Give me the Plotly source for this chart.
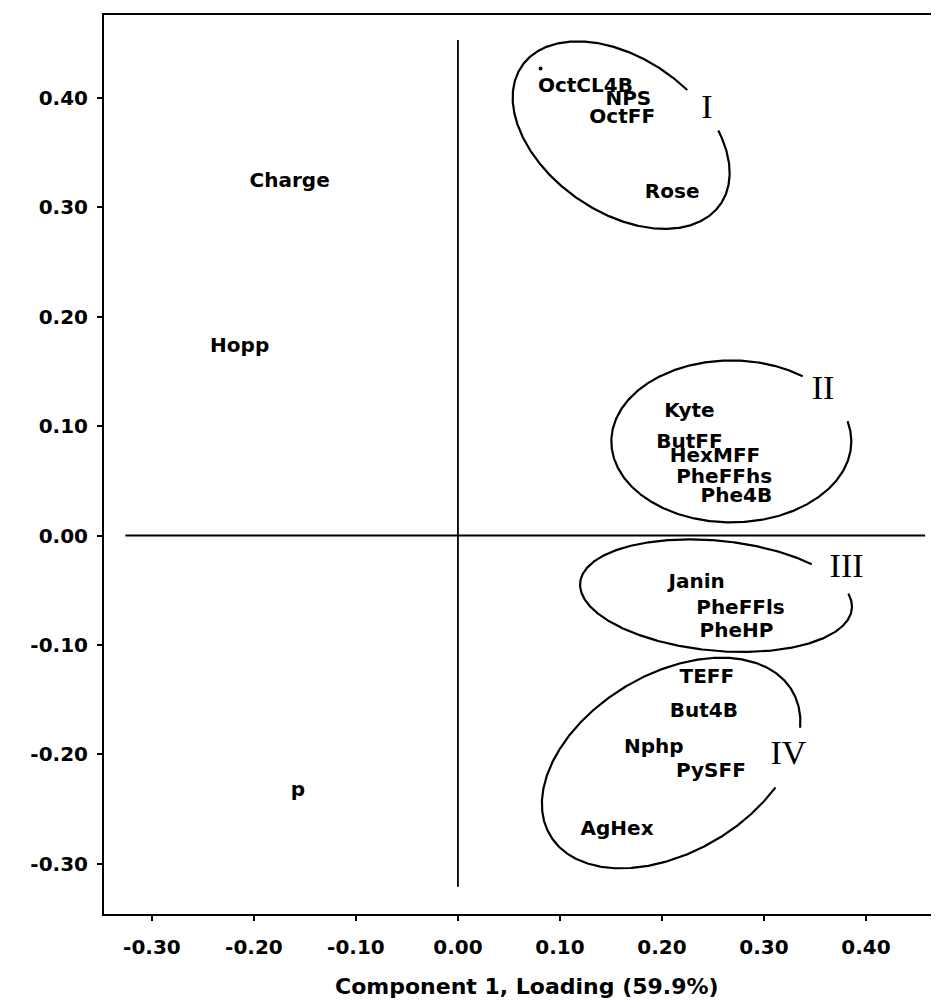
import numpy as np
import plotly.graph_objects as go

# ---- data ----
labels = ["Charge", "Hopp", "p", "OctCL4B", "NPS", "OctFF", "Rose",
          "Kyte", "ButFF", "HexMFF", "PheFFhs", "Phe4B",
          "Janin", "PheFFls", "PheHP",
          "TEFF", "But4B", "Nphp", "PySFF", "AgHex"]
comp1 = [-0.165, -0.214, -0.157, 0.125, 0.167, 0.161, 0.210,
         0.227, 0.227, 0.252, 0.261, 0.273,
         0.234, 0.277, 0.273,
         0.244, 0.241, 0.192, 0.248, 0.156]
comp2 = [0.323, 0.172, -0.234, 0.410, 0.398, 0.382, 0.313,
         0.113, 0.085, 0.072, 0.053, 0.035,
         -0.043, -0.067, -0.088,
         -0.130, -0.161, -0.194, -0.216, -0.269]

group_names = ["I", "II", "III", "IV"]
group_x = [0.244, 0.358, 0.381, 0.324]
group_y = [0.389, 0.133, -0.030, -0.201]

# cluster ellipses: centre (data), semi-axes (px), rotation (deg), open gap (deg)
ell_cx = [0.160, 0.268, 0.253, 0.209]
ell_cy = [0.366, 0.086, -0.055, -0.208]
ell_a = [121, 120, 136.5, 141]
ell_b = [77, 81, 55, 89]
ell_rot = [-35, 0, -5.5, 31]
ell_gap = [(3, 34), (10, 42), (1, 18), (-13, 15)]

xtick_vals = [-0.30, -0.20, -0.10, 0.00, 0.10, 0.20, 0.30, 0.40]
xtick_text = ["-0.30", "-0.20", "-0.10", "0.00", "0.10", "0.20", "0.30", "0.40"]
ytick_vals = [-0.30, -0.20, -0.10, 0.00, 0.10, 0.20, 0.30, 0.40]
ytick_text = ["-0.30", "-0.20", "-0.10", "0.00", "0.10", "0.20", "0.30", "0.40"]

x_range = [-0.347, 0.4716]
y_range = [-0.346, 0.4758]
vline_y = [0.453, -0.321]
hline_x = [-0.326, 0.458]
stray_dot = ([0.081], [0.427])

# ---- layout geometry (page body has an 8px margin) ----
OFF = 8
W, H = 939 - OFF, 1002 - OFF
ML, MT = 104 - OFF, 15 - OFF
MR = 0
MB = H - (914 - OFF)
plot_w = W - ML - MR
plot_h = H - MT - MB
sx = plot_w / (x_range[1] - x_range[0])
sy = plot_h / (y_range[1] - y_range[0])

fig = go.Figure()

# reference cross lines
fig.add_trace(go.Scatter(x=[0, 0], y=vline_y, mode="lines",
                         line=dict(color="black", width=1.8),
                         hoverinfo="skip", showlegend=False))
fig.add_trace(go.Scatter(x=hline_x, y=[0, 0], mode="lines",
                         line=dict(color="black", width=1.8),
                         hoverinfo="skip", showlegend=False))

# ellipses
t = np.linspace(0, 2 * np.pi, 721)
for cx, cy, a, b, rot, gap in zip(ell_cx, ell_cy, ell_a, ell_b, ell_rot, ell_gap):
    r = np.deg2rad(rot)
    dx = a * np.cos(t) * np.cos(r) - b * np.sin(t) * np.sin(r)
    dy = a * np.cos(t) * np.sin(r) + b * np.sin(t) * np.cos(r)
    ang = np.degrees(np.arctan2(dy, dx))
    xs = list(cx + dx / sx)
    ys = list(cy + dy / sy)
    mask = (ang > gap[0]) & (ang < gap[1])
    idx = np.where(mask)[0]
    start = (idx[-1] + 1) % len(t) if len(idx) else 0
    order = list(range(start, len(t))) + list(range(0, start))
    xo = [None if mask[i] else xs[i] for i in order]
    yo = [None if mask[i] else ys[i] for i in order]
    fig.add_trace(go.Scatter(x=xo, y=yo, mode="lines",
                             line=dict(color="black", width=2.2),
                             connectgaps=False, hoverinfo="skip",
                             showlegend=False))

# labels
fig.add_trace(go.Scatter(x=comp1, y=comp2, mode="text", text=labels,
                         textposition="middle center",
                         textfont=dict(family="DejaVu Sans", size=20,
                                       color="black", weight="bold"),
                         showlegend=False))

# roman numerals
fig.add_trace(go.Scatter(x=group_x, y=group_y, mode="text", text=group_names,
                         textposition="middle center",
                         textfont=dict(family="Liberation Serif", size=34,
                                       color="black"),
                         showlegend=False))

fig.add_trace(go.Scatter(x=stray_dot[0], y=stray_dot[1], mode="markers",
                         marker=dict(color="black", size=4),
                         hoverinfo="skip", showlegend=False))

tickfont = dict(family="DejaVu Sans", size=20, color="black", weight="bold")

fig.update_layout(
    width=W, height=H,
    margin=dict(l=ML, r=MR, t=MT, b=MB),
    paper_bgcolor="white", plot_bgcolor="white",
    showlegend=False,
    xaxis=dict(range=x_range, showgrid=False, zeroline=False,
               showline=True, linecolor="black", linewidth=2, mirror=True,
               ticks="outside", ticklen=5, tickwidth=1.5, tickcolor="black",
               tickvals=xtick_vals, ticktext=xtick_text, tickfont=tickfont,
               ticklabelstandoff=9),
    yaxis=dict(range=y_range, showgrid=False, zeroline=False,
               showline=True, linecolor="black", linewidth=2, mirror=False,
               ticks="outside", ticklen=5, tickwidth=1.5, tickcolor="black",
               tickvals=ytick_vals, ticktext=ytick_text, tickfont=tickfont,
               ticklabelstandoff=5),
    annotations=[dict(text="Component 1, Loading (59.9%)",
                      xref="paper", yref="paper",
                      x=(527 - 104) / plot_w, y=-(986 - 914) / plot_h,
                      xanchor="center", yanchor="middle", showarrow=False,
                      font=dict(family="DejaVu Sans", size=22,
                                color="black", weight="bold"))],
)

fig.write_html("out.html")
